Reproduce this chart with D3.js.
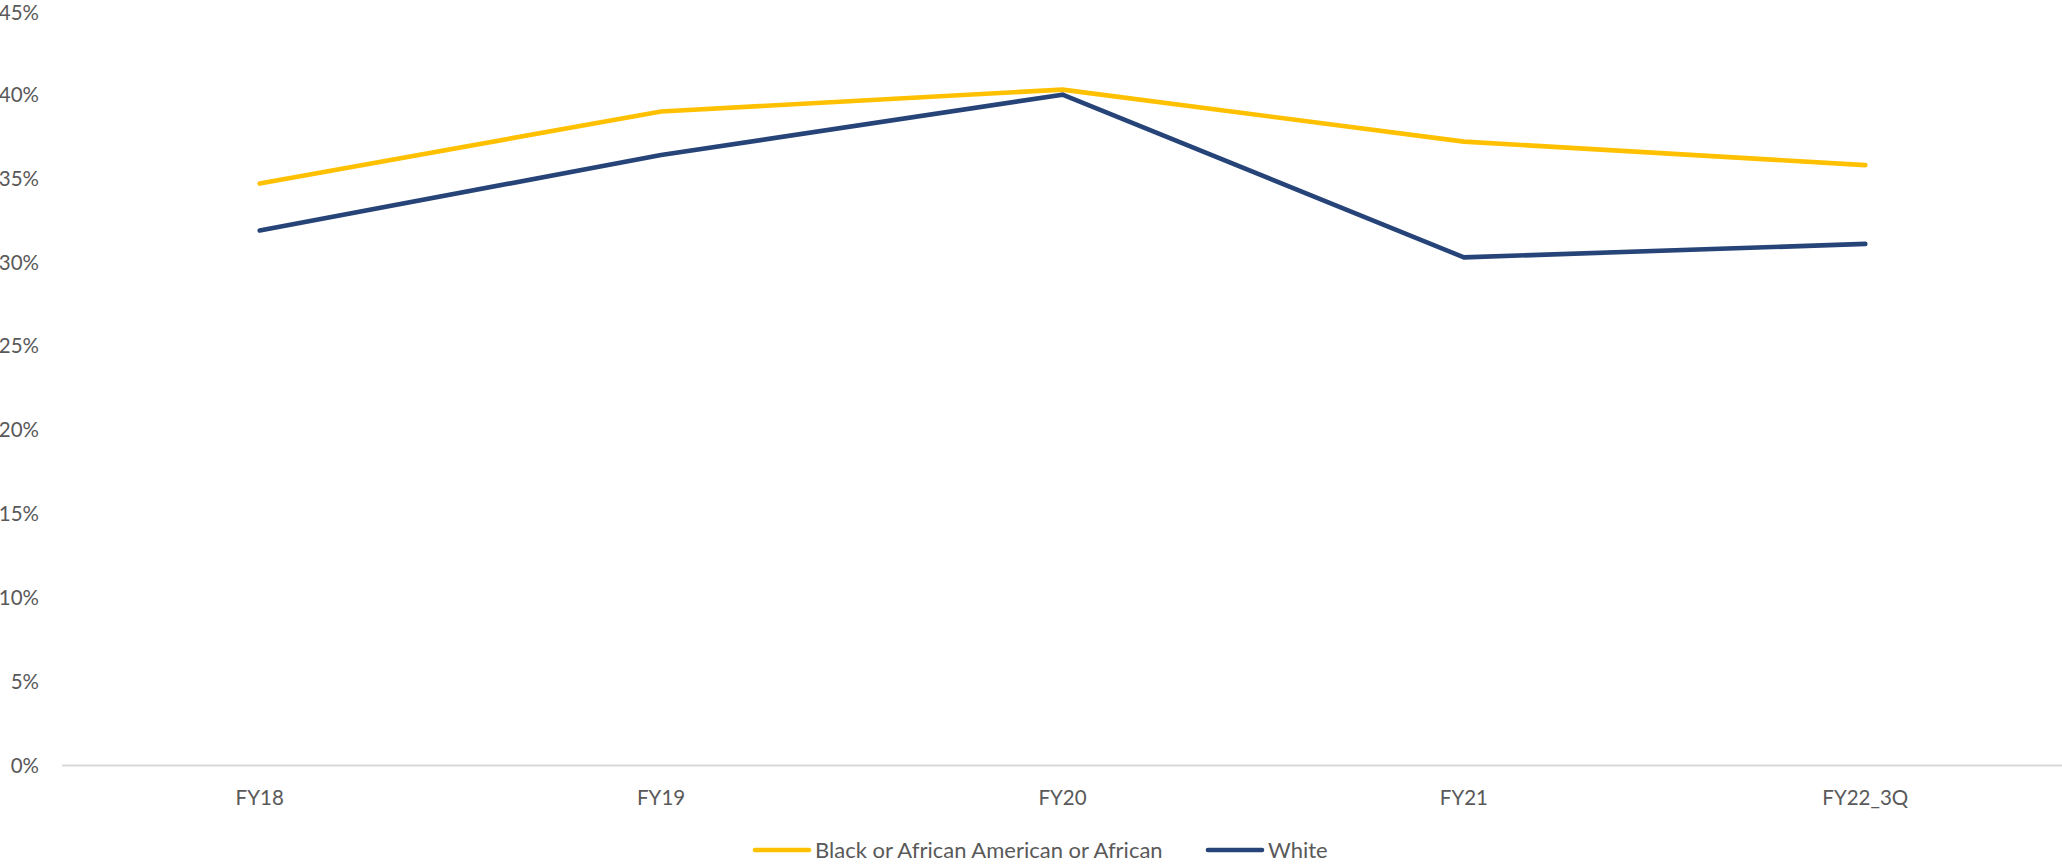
<!DOCTYPE html>
<html>
<head>
<meta charset="utf-8">
<script src="https://cdn.jsdelivr.net/npm/d3@7"></script>
<style>
  html, body { margin: 0; padding: 0; background: #fff; }
  svg { display: block; }
  text { font-family: Lato, "Liberation Sans", sans-serif; fill: #595959; }
</style>
</head>
<body>
<svg id="chart" width="2062" height="864"></svg>
<script>
// Fiscal-year categories on the x axis
const categories = ["FY18", "FY19", "FY20", "FY21", "FY22_3Q"];

// Share (in percent) for each group, one value per fiscal year
const blackValues = [34.7, 39.0, 40.3, 37.2, 35.8];
const whiteValues = [31.9, 36.4, 40.0, 30.3, 31.1];

// Y axis ticks (percent)
const yTicks = [0, 5, 10, 15, 20, 25, 30, 35, 40, 45];

const seriesNames = ["Black or African American or African", "White"];
const seriesColors = ["#FFC000", "#264478"];

const series = [
  { name: seriesNames[0], color: seriesColors[0], values: blackValues },
  { name: seriesNames[1], color: seriesColors[1], values: whiteValues }
];

const svg = d3.select("#chart");
const axisFont = 20.5;
const legendFont = 22;

const x = d3.scaleBand().domain(categories).range([59, 2066]);
const y = d3.scaleLinear().domain([0, 45]).range([765.5, 10.8]);

// Y tick labels (no gridlines); the top one is kept inside the frame
svg.append("g")
  .selectAll("text")
  .data(yTicks)
  .join("text")
  .attr("x", 39)
  .attr("y", d => Math.max(y(d), 12.5))
  .attr("dy", "0.35em")
  .attr("text-anchor", "end")
  .style("font-size", axisFont + "px")
  .text(d => d + "%");

// Category axis line
svg.append("line")
  .attr("x1", 62).attr("x2", 2062)
  .attr("y1", y(0)).attr("y2", y(0))
  .attr("stroke", "#d9d9d9")
  .attr("stroke-width", 2);

// Category labels
svg.append("g")
  .selectAll("text")
  .data(categories)
  .join("text")
  .attr("x", d => x(d) + x.bandwidth() / 2)
  .attr("y", 798)
  .attr("dy", "0.35em")
  .attr("text-anchor", "middle")
  .style("font-size", axisFont + "px")
  .text(d => d);

// Lines
const line = d3.line()
  .x((d, i) => x(categories[i]) + x.bandwidth() / 2)
  .y(d => y(d));

svg.append("g")
  .selectAll("path")
  .data(series)
  .join("path")
  .attr("d", d => line(d.values))
  .attr("fill", "none")
  .attr("stroke", d => d.color)
  .attr("stroke-width", 4.6)
  .attr("stroke-linecap", "round")
  .attr("stroke-linejoin", "round");

// Legend
const legendX = [755, 1208];
const legend = svg.append("g")
  .selectAll("g")
  .data(series)
  .join("g")
  .attr("transform", (d, i) => `translate(${legendX[i]},850)`);

legend.append("line")
  .attr("x1", 0).attr("x2", 54)
  .attr("y1", 0).attr("y2", 0)
  .attr("stroke", d => d.color)
  .attr("stroke-width", 4.6)
  .attr("stroke-linecap", "round");

legend.append("text")
  .attr("x", 60)
  .attr("y", 0)
  .attr("dy", "0.35em")
  .style("font-size", legendFont + "px")
  .text(d => d.name);
</script>
</body>
</html>
